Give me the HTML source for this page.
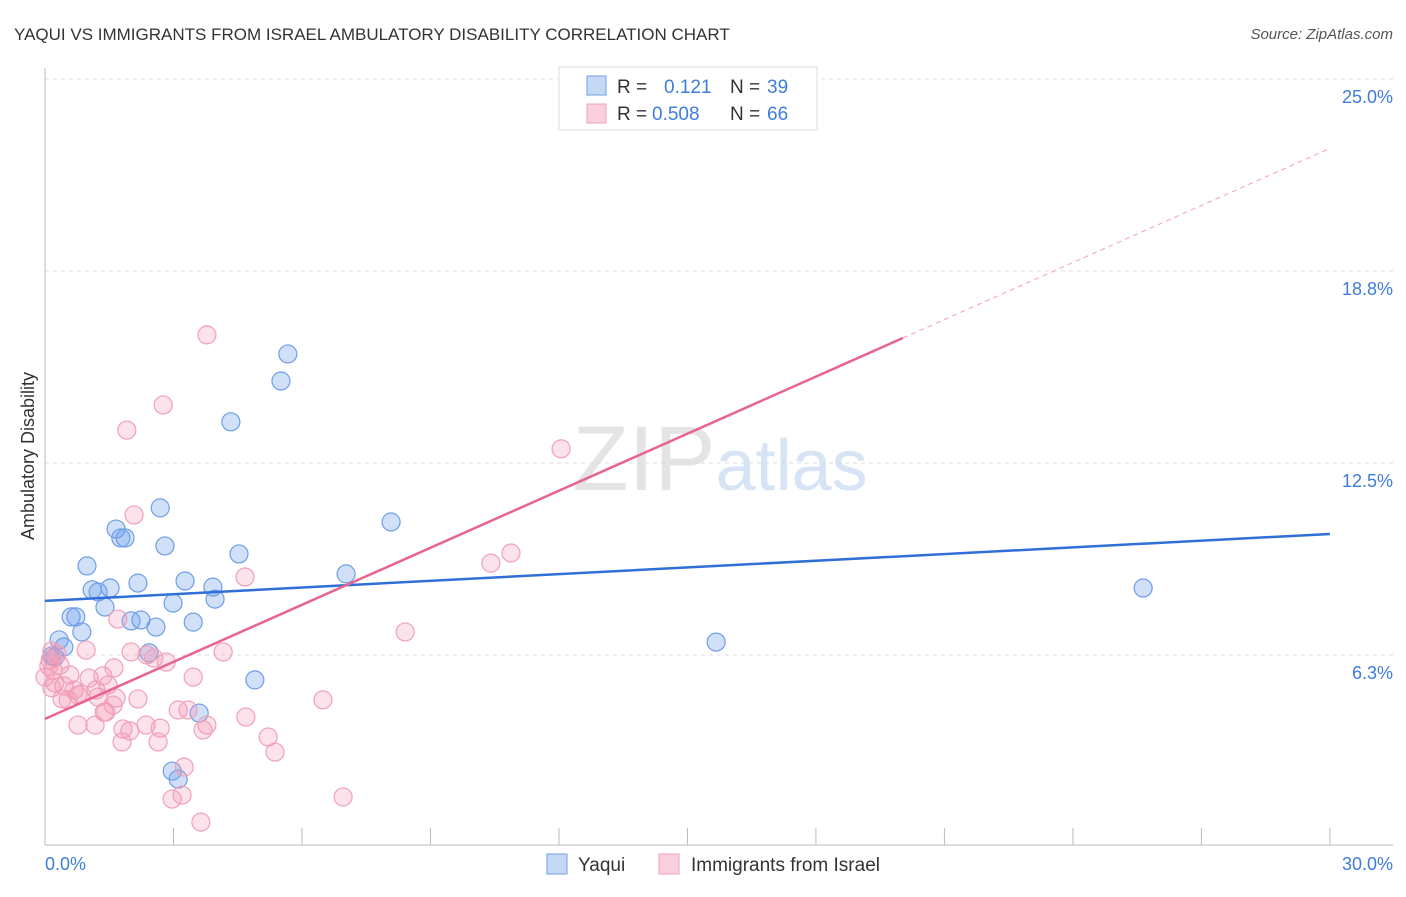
<!DOCTYPE html>
<html><head><meta charset="utf-8"><style>
body{margin:0;background:#fff;font-family:"Liberation Sans",sans-serif}
svg text{font-family:"Liberation Sans",sans-serif}
</style></head><body>
<svg id="chart" width="1406" height="892">
<text x="14" y="40" font-size="17" fill="#333">YAQUI VS IMMIGRANTS FROM ISRAEL AMBULATORY DISABILITY CORRELATION CHART</text>
<text x="1393" y="39" font-size="15" fill="#555" text-anchor="end" font-style="italic">Source: ZipAtlas.com</text>
<text x="720" y="490" font-size="92" fill="#e4e4e4" text-anchor="middle" font-family="Liberation Serif"><tspan>ZIP</tspan><tspan fill="#d6e4f5" font-family="Liberation Sans" font-size="72">atlas</tspan></text>
<g id="grid"></g>
<g id="axes"></g>
<g id="marks"></g>
<text transform="translate(34,456) rotate(-90)" font-size="18" fill="#333" text-anchor="middle">Ambulatory Disability</text>
<g>
<rect x="559" y="67" width="258" height="63" fill="#fff" stroke="#ddd"/>
<rect x="587" y="76" width="19" height="19" fill="#c5d9f5" stroke="#6f9ee6"/>
<text x="617" y="93" font-size="19" fill="#333">R =  </text><text x="664" y="93" font-size="19" fill="#3d7ddb">0.121</text>
<text x="730" y="93" font-size="19" fill="#333">N = </text><text x="767" y="93" font-size="19" fill="#3d7ddb">39</text>
<rect x="587" y="104" width="19" height="19" fill="#fad0dc" stroke="#f0a0b8"/>
<text x="617" y="120" font-size="19" fill="#333">R = </text><text x="652" y="120" font-size="19" fill="#3d7ddb">0.508</text>
<text x="730" y="120" font-size="19" fill="#333">N = </text><text x="767" y="120" font-size="19" fill="#3d7ddb">66</text>
</g>
<g>
<rect x="547" y="854" width="20" height="20" fill="#c5d9f5" stroke="#6f9ee6"/>
<text x="578" y="871" font-size="19" fill="#333">Yaqui</text>
<rect x="659" y="854" width="20" height="20" fill="#fad0dc" stroke="#f0a0b8"/>
<text x="691" y="871" font-size="19" fill="#333">Immigrants from Israel</text>
</g>
</svg>
<script>
const yTicks=[6.25,12.5,18.75,25];
const yTickLabels=["6.3%","12.5%","18.8%","25.0%"];
const xTickLabels=["0.0%","30.0%"];
const yaquiX=[5.67,5.51,4.34,2.69,1.66,1.77,1.87,2.80,4.53,0.98,2.17,3.27,1.52,1.10,1.24,3.92,7.03,8.08,1.40,2.99,3.97,0.61,0.72,2.24,2.01,2.59,3.46,0.86,0.33,0.44,0.23,0.16,2.43,4.90,3.60,15.67,25.64,2.97,3.11];
const yaquiY=[16.05,15.17,13.84,11.04,10.35,10.06,10.06,9.80,9.54,9.15,8.59,8.66,8.43,8.37,8.30,8.46,8.89,10.58,7.81,7.94,8.07,7.49,7.49,7.39,7.36,7.16,7.32,7.00,6.74,6.51,6.18,6.22,6.32,5.44,4.36,6.67,8.43,2.47,2.21];
const israelX=[3.78,2.76,1.91,12.05,2.08,10.88,10.41,4.67,8.41,1.70,4.16,2.01,2.38,2.54,2.83,0.96,0.28,0.12,0.35,0.58,1.61,1.03,1.35,1.47,0.19,0.23,0.44,0.68,0.84,1.19,1.24,1.66,2.17,0.40,0.77,3.46,6.49,3.11,3.34,1.38,1.42,1.59,0.77,1.17,1.82,1.98,2.36,2.69,3.78,3.69,1.80,2.64,4.69,5.21,5.37,3.25,2.97,3.20,3.64,6.96,15.85,0.16,0.00,0.09,0.16,0.54];
const israelY=[16.67,14.39,13.57,12.96,10.81,9.57,9.24,8.79,7.00,7.42,6.35,6.35,6.25,6.15,6.02,6.41,6.28,6.09,5.92,5.60,5.83,5.50,5.57,5.27,5.76,5.34,5.24,5.11,4.98,5.11,4.88,4.85,4.82,4.82,4.95,5.53,4.79,4.46,4.46,4.39,4.39,4.62,3.97,3.97,3.84,3.78,3.97,3.87,3.97,3.81,3.42,3.42,4.23,3.58,3.09,2.60,1.56,1.69,0.81,1.63,24.64,5.18,5.53,5.89,6.38,4.79];
const yaquiTrend=[8.01,10.19];
const israelTrend=[4.17,22.74];
const israelSolidEnd=20.03;
const X=v=>45+v*42.83, Y=v=>847-v*30.72;
const NS="http://www.w3.org/2000/svg";
function mk(tag,attrs,parent){const e=document.createElementNS(NS,tag);for(const k in attrs)e.setAttribute(k,attrs[k]);document.getElementById(parent).appendChild(e);return e;}
yTicks.forEach((t,i)=>{
 const l=mk('line',{x1:45,x2:1393,y1:Y(t),y2:Y(t),stroke:'#ddd','stroke-dasharray':'4,4'},'grid');
 
 
 const tx=mk('text',{x:1393,y:Y(t)+24,'font-size':18,fill:'#3d7ddb','text-anchor':'end'},'axes');
 tx.textContent=yTickLabels[i];
 
 
});
let a=mk('line',{x1:45,x2:45,y1:68,y2:845,stroke:'#bbb'},'axes');


a=mk('line',{x1:45,x2:1393,y1:845,y2:845,stroke:'#bbb'},'axes');


for(let i=1;i<=10;i++){
 const t=mk('line',{x1:X(i*3),x2:X(i*3),y1:828,y2:845,stroke:'#bbb'},'axes');
 
 
}
[0,30].forEach((v,i)=>{
 const t=mk('text',{x:i?1393:45,y:870,'font-size':18,fill:'#3d7ddb','text-anchor':i?'end':'start'},'axes');
 t.textContent=xTickLabels[i];
 
 
});
yaquiX.forEach((x,i)=>{
 const c=mk('circle',{cx:X(x),cy:Y(yaquiY[i]),r:9,fill:'rgba(110,160,235,0.32)',stroke:'#6f9ee6','stroke-width':1.2},'marks');
 
 
});
israelX.forEach((x,i)=>{
 const c=mk('circle',{cx:X(x),cy:Y(israelY[i]),r:9,fill:'rgba(245,150,180,0.28)',stroke:'#f0a0b8','stroke-width':1.2},'marks');
 
 
});
let t=mk('line',{x1:X(0),y1:Y(yaquiTrend[0]),x2:X(30),y2:Y(yaquiTrend[1]),stroke:'#2f6fd6','stroke-width':2.5},'marks');


const pY=x=>israelTrend[0]+(israelTrend[1]-israelTrend[0])*x/30;
t=mk('line',{x1:X(0),y1:Y(pY(0)),x2:X(israelSolidEnd),y2:Y(pY(israelSolidEnd)),stroke:'#e8648f','stroke-width':2.5},'marks');


t=mk('line',{x1:X(israelSolidEnd),y1:Y(pY(israelSolidEnd)),x2:X(30),y2:Y(pY(30)),stroke:'#f0a0b8','stroke-width':1,'stroke-dasharray':'5,4'},'marks');


</script>
</body></html>
